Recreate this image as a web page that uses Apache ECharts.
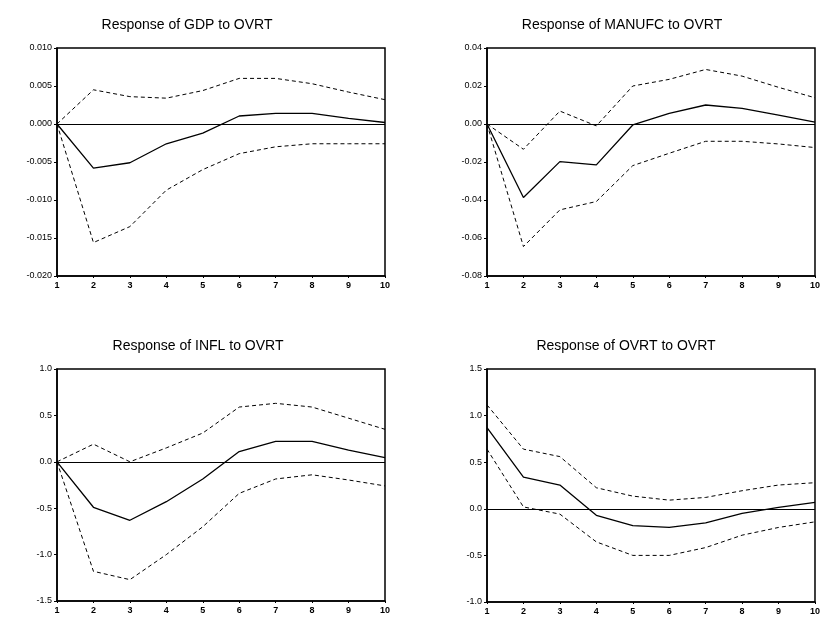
<!DOCTYPE html>
<html>
<head>
<meta charset="utf-8">
<script src="https://cdn.jsdelivr.net/npm/echarts@6/dist/echarts.min.js"></script>
<style>html,body{margin:0;padding:0;background:#fff;}#c{width:823px;height:621px;}</style>
</head>
<body>
<div id="c"></div>
<script>
var periods = ['1','2','3','4','5','6','7','8','9','10'];

var titles = ['Response of GDP to OVRT','Response of MANUFC to OVRT','Response of INFL to OVRT','Response of OVRT to OVRT'];

var gdpMid = [0,-0.0058,-0.0051,-0.0026,-0.0012,0.00105,0.0014,0.0014,0.00075,0.0002];
var gdpUp  = [0,0.0045,0.0036,0.0034,0.0044,0.0060,0.0060,0.0053,0.0042,0.0032];
var gdpLo  = [0,-0.0156,-0.0135,-0.0087,-0.0060,-0.0039,-0.0030,-0.0026,-0.0026,-0.0026];

var manMid = [0,-0.0387,-0.0198,-0.0215,-0.0005,0.0056,0.0100,0.0082,0.0047,0.0010];
var manUp  = [0,-0.0133,0.0068,-0.0010,0.0200,0.0235,0.0287,0.0252,0.0193,0.0138];
var manLo  = [0,-0.0645,-0.0452,-0.0408,-0.0219,-0.0154,-0.0091,-0.0091,-0.0105,-0.0124];

var inflMid = [0,-0.49,-0.63,-0.43,-0.185,0.11,0.22,0.22,0.127,0.045];
var inflUp  = [0,0.19,0.0,0.15,0.31,0.59,0.63,0.59,0.47,0.35];
var inflLo  = [0,-1.18,-1.27,-1.0,-0.70,-0.34,-0.185,-0.14,-0.196,-0.26];

var ovrtMid = [0.87,0.34,0.255,-0.07,-0.18,-0.20,-0.15,-0.05,0.015,0.07];
var ovrtUp  = [1.115,0.64,0.56,0.226,0.136,0.093,0.122,0.194,0.255,0.28];
var ovrtLo  = [0.64,0.02,-0.057,-0.355,-0.50,-0.50,-0.416,-0.283,-0.20,-0.14];

var yMins = [-0.02,-0.08,-1.5,-1.0];
var yMaxs = [0.01,0.04,1.0,1.5];
var yInts = [0.005,0.02,0.5,0.5];
var yDec  = [3,2,1,1];

var panels = [[gdpMid,gdpUp,gdpLo],[manMid,manUp,manLo],[inflMid,inflUp,inflLo],[ovrtMid,ovrtUp,ovrtLo]];

var grids = [
  {left:57, top:48, width:328, height:228},
  {left:487, top:48, width:328, height:228},
  {left:57, top:369, width:328, height:232},
  {left:487, top:369, width:328, height:233}
];
var titlePos = [[182,13],[617,13],[193,334],[621,334]];

var option = {
  backgroundColor:'#fff',
  animation:false,
  title: titles.map(function(t,i){
    return {text:t, left:titlePos[i][0], top:titlePos[i][1], textAlign:'center',
      textStyle:{fontFamily:'Liberation Sans, Arial', fontSize:14, fontWeight:'normal', color:'#000'}};
  }),
  grid: grids.map(function(g){ return Object.assign({show:true, borderColor:'#000', borderWidth:1.5, backgroundColor:'transparent'}, g); }),
  xAxis: grids.map(function(g,i){
    return {type:'category', gridIndex:i, data:periods, boundaryGap:false,
      axisLine:{show:true, onZero:false, lineStyle:{color:'#000', width:1.5}},
      axisTick:{show:true, inside:false, length:2, lineStyle:{color:'#000'}},
      axisLabel:{color:'#000', fontSize:9, fontFamily:'Liberation Sans, Arial', margin:5, fontWeight:'bold'},
      splitLine:{show:false}};
  }),
  yAxis: grids.map(function(g,i){
    return {type:'value', gridIndex:i, min:yMins[i], max:yMaxs[i], interval:yInts[i],
      axisLine:{show:true, lineStyle:{color:'#000', width:1.5}},
      axisTick:{show:true, length:3, lineStyle:{color:'#000'}},
      axisLabel:{color:'#000', fontSize:9, fontFamily:'Liberation Sans, Arial', margin:5,
        formatter:function(v){ var d=yDec[i]; var s=Math.abs(v).toFixed(d); return (v< -1e-12?'-':'')+s; }},
      splitLine:{show:false}};
  }),
  series: []
};

panels.forEach(function(p,i){
  option.series.push({type:'line', xAxisIndex:i, yAxisIndex:i, data:p[0], symbol:'none',
    lineStyle:{color:'#000', width:1.3},
    markLine:{silent:true, symbol:'none', label:{show:false}, lineStyle:{color:'#000', width:1, type:'solid'}, data:[{yAxis:0}]}});
  option.series.push({type:'line', xAxisIndex:i, yAxisIndex:i, data:p[1], symbol:'none',
    lineStyle:{color:'#000', width:1, type:[4,3]}});
  option.series.push({type:'line', xAxisIndex:i, yAxisIndex:i, data:p[2], symbol:'none',
    lineStyle:{color:'#000', width:1, type:[4,3]}});
});

var chart = echarts.init(document.getElementById('c'), null, {renderer:'canvas'});
chart.setOption(option);
</script>
</body>
</html>
